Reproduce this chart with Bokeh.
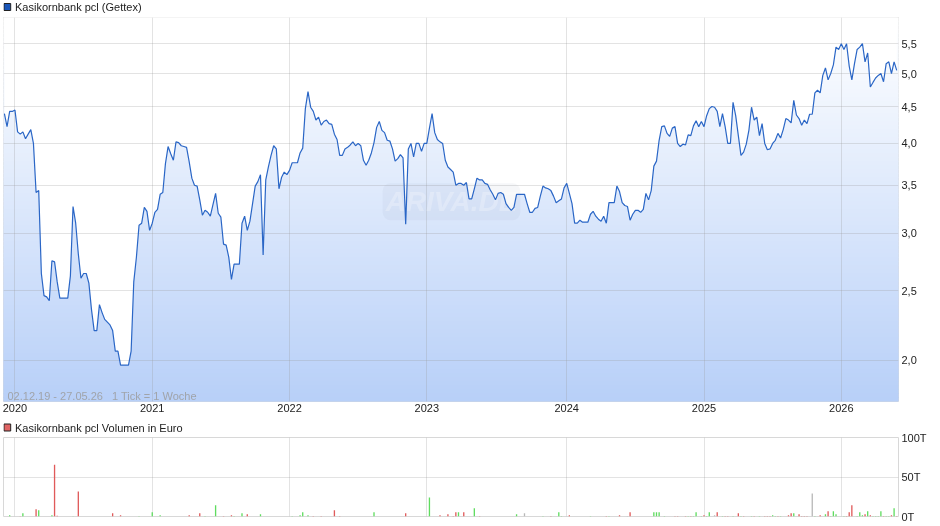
import numpy as np
from bokeh.core.properties import value
from bokeh.embed import file_html
from bokeh.layouts import column
from bokeh.models import FixedTicker, Label
from bokeh.plotting import figure
from bokeh.resources import INLINE

# Weekly closing prices, 02.12.19 - 27.05.26 (one value per week)
prices = [
    4.40, 4.22, 4.43, 4.43, 4.45, 4.15, 4.12, 4.15, 4.06, 4.12, 4.18, 4.00, 3.42, 3.44, 2.64, 2.46, 2.45, 2.42, 2.75, 2.74,
    2.57, 2.44, 2.44, 2.44, 2.44, 2.62, 3.27, 3.10, 2.81, 2.60, 2.64, 2.64, 2.56, 2.35, 2.20, 2.20, 2.39, 2.33, 2.28, 2.26,
    2.24, 2.20, 2.06, 2.06, 1.97, 1.97, 1.97, 1.97, 2.06, 2.57, 2.78, 3.08, 3.10, 3.26, 3.22, 3.03, 3.10, 3.21, 3.24, 3.40,
    3.42, 3.75, 3.96, 3.87, 3.79, 4.02, 4.01, 3.97, 3.96, 3.95, 3.77, 3.58, 3.50, 3.49, 3.34, 3.18, 3.23, 3.21, 3.17, 3.29,
    3.41, 3.20, 3.16, 2.90, 2.89, 2.78, 2.59, 2.72, 2.72, 2.72, 3.10, 3.17, 3.03, 3.12, 3.30, 3.49, 3.54, 3.62, 2.80, 3.56,
    3.71, 3.85, 3.97, 3.93, 3.46, 3.59, 3.65, 3.62, 3.67, 3.76, 3.76, 3.76, 3.88, 3.94, 4.47, 4.72, 4.49, 4.43, 4.31, 4.35,
    4.24, 4.29, 4.31, 4.26, 4.25, 4.12, 4.05, 3.85, 3.85, 3.93, 3.95, 3.98, 4.02, 3.97, 4.00, 3.97, 3.79, 3.73, 3.79, 3.88,
    4.01, 4.21, 4.29, 4.17, 4.14, 4.04, 4.03, 3.93, 3.78, 3.81, 3.86, 3.82, 3.09, 3.93, 4.00, 3.83, 4.00, 4.00, 3.90, 4.00,
    4.00, 4.20, 4.40, 4.14, 4.05, 4.02, 4.00, 3.79, 3.71, 3.68, 3.65, 3.50, 3.52, 3.52, 3.50, 3.53, 3.35, 3.35, 3.46, 3.58,
    3.56, 3.56, 3.52, 3.51, 3.45, 3.40, 3.34, 3.41, 3.42, 3.40, 3.30, 3.26, 3.23, 3.26, 3.40, 3.40, 3.40, 3.40, 3.30, 3.21,
    3.21, 3.25, 3.26, 3.38, 3.49, 3.47, 3.46, 3.44, 3.38, 3.31, 3.33, 3.35, 3.47, 3.52, 3.41, 3.30, 3.10, 3.10, 3.13, 3.11,
    3.11, 3.11, 3.19, 3.22, 3.17, 3.14, 3.12, 3.17, 3.10, 3.31, 3.31, 3.31, 3.49, 3.43, 3.31, 3.28, 3.27, 3.13, 3.19, 3.23,
    3.23, 3.21, 3.24, 3.41, 3.34, 3.44, 3.72, 3.78, 4.04, 4.22, 4.23, 4.13, 4.09, 4.20, 4.22, 4.00, 3.96, 3.99, 3.98, 4.11,
    4.10, 4.23, 4.30, 4.22, 4.29, 4.22, 4.37, 4.47, 4.50, 4.49, 4.43, 4.22, 4.40, 4.22, 4.00, 4.00, 4.56, 4.37, 4.10, 3.85,
    3.89, 3.99, 4.17, 4.49, 4.31, 4.35, 4.10, 4.26, 4.00, 3.92, 3.93, 4.00, 4.04, 4.13, 4.07, 4.18, 4.33, 4.31, 4.27, 4.59,
    4.38, 4.33, 4.24, 4.31, 4.26, 4.39, 4.39, 4.70, 4.74, 4.70, 4.97, 5.09, 4.90, 5.00, 5.14, 5.44, 5.40, 5.50, 5.40, 5.50,
    5.12, 4.90, 5.16, 5.40, 5.44, 5.50, 5.19, 5.34, 4.79, 4.86, 4.93, 4.97, 5.00, 4.87, 5.16, 5.19, 5.00, 5.19, 5.05,
]
weeks = list(range(len(prices)))

# Volume in thousand euro, split by week direction
up_weeks = [2, 7, 13, 18, 26, 51, 56, 59, 76, 80, 87, 90, 97, 109, 112, 113, 115, 140, 161, 172, 178, 194, 204, 210, 211,
            222, 229, 246, 247, 248, 250, 259, 261, 262, 264, 266, 267, 272, 276, 279, 283, 286, 291, 292, 294, 299, 307,
            311, 313, 314, 315, 318, 323, 324, 325, 327, 329, 330, 331, 332, 334, 335, 337]
up_vols = [1.7, 4.2, 7.9, 1.7, 0.4, 0.5, 5.4, 1.7, 0.6, 14.2, 0.5, 4.2, 2.9, 0.5, 1.7, 5.4, 1.7, 5.4, 24.2, 5.4, 10.4, 2.9,
           0.6, 5.4, 0.6, 0.6, 0.6, 5.4, 5.4, 5.4, 0.6, 0.6, 0.5, 5.4, 0.6, 0.5, 5.4, 0.6, 0.6, 0.6, 0.6, 0.6, 1.7, 0.6,
           0.6, 4.2, 0.6, 2.9, 0.6, 6.7, 2.9, 0.6, 0.6, 5.4, 1.7, 6.7, 0.6, 0.6, 0.6, 6.7, 0.6, 0.6, 10.4]
down_weeks = [6, 12, 19, 20, 28, 41, 44, 70, 74, 83, 86, 92, 117, 120, 125, 127, 152, 165, 168, 170, 171, 174, 180, 207,
              214, 228, 233, 237, 254, 255, 258, 260, 265, 270, 273, 274, 278, 280, 284, 288, 289, 290, 293, 297, 298,
              301, 302, 303, 304, 309, 312, 319, 320, 321, 326, 328, 333, 336, 338]
down_vols = [0.4, 9.2, 65.4, 0.8, 31.7, 4.2, 1.7, 1.7, 4.2, 0.6, 1.7, 2.9, 0.6, 0.6, 7.9, 0.6, 4.2, 1.7, 2.9, 0.6, 5.4, 5.4,
             0.6, 0.6, 1.7, 0.6, 1.7, 5.4, 0.6, 0.5, 0.6, 0.6, 1.7, 5.4, 0.6, 0.6, 4.2, 0.6, 0.6, 0.6, 0.6, 0.6, 0.6, 1.7,
             4.2, 2.9, 0.6, 0.6, 0.6, 1.7, 6.7, 0.6, 5.4, 14.2, 2.9, 1.7, 0.6, 1.7, 0.6]
flat_weeks = [197, 236, 269, 306]
flat_vols = [4.2, 0.5, 1.7, 29.2]

year_weeks = [4, 56, 108, 160, 213, 265, 317]
year_labels = ["2020", "2021", "2022", "2023", "2024", "2025", "2026"]
price_ticks = [2.0, 2.5, 3.0, 3.5, 4.0, 4.5, 5.0, 5.5]
price_labels = ["2,0", "2,5", "3,0", "3,5", "4,0", "4,5", "5,0", "5,5"]
vol_ticks = [0, 50, 100]
vol_labels = ["0T", "50T", "100T"]

FONT = "Liberation Sans"
GRID = "#999999"
X_RANGE = (-0.34, 338.67)
Y_LOW, Y_HIGH = 1.754, 5.98


def style(p):
    p.outline_line_color = "#d8d8d8"
    p.xgrid.ticker = FixedTicker(ticks=year_weeks)
    p.xgrid.grid_line_color = GRID
    p.xgrid.grid_line_alpha = 0.27
    p.ygrid.grid_line_color = GRID
    p.ygrid.grid_line_alpha = 0.27
    p.yaxis.axis_line_color = None
    p.yaxis.major_tick_line_color = None
    p.yaxis.minor_tick_line_color = None
    p.yaxis.major_tick_out = 0
    p.yaxis.major_label_text_font = FONT
    p.yaxis.major_label_text_font_size = "11px"
    p.yaxis.major_label_text_color = "#222222"
    p.yaxis.major_label_standoff = 3


def header(text, color, height, center):
    # thin strip above a chart with the coloured square and its caption, measured in pixels
    h = figure(width=932, height=height, output_backend="svg", toolbar_location=None, x_range=(0, 932),
               y_range=(height, 0), x_axis_location=None, y_axis_location=None, min_border=0, outline_line_color=None)
    h.grid.visible = False
    h.quad(left=0.5, right=7.5, top=center - 3.5, bottom=center + 3.5, fill_color=color, line_color="#222222")
    h.text(x=[12], y=[center], text=[text], text_font=value(FONT), text_font_size="11px", text_color="#222222",
           text_baseline="middle")
    return h


head = header("Kasikornbank pcl (Gettex)", "#1a56b8", 17, 6.5)

p = figure(width=932, height=398, output_backend="svg", toolbar_location=None, x_range=X_RANGE,
           y_range=(Y_LOW, Y_HIGH), y_axis_type="log", y_axis_location="right", frame_width=895, frame_height=384,
           min_border_left=3, min_border_top=0, min_border_bottom=0, min_border_right=34)
style(p)
p.yaxis.ticker = FixedTicker(ticks=price_ticks)
p.yaxis.major_label_overrides = dict(zip(price_ticks, price_labels))
p.ygrid.ticker = FixedTicker(ticks=price_ticks)
p.xaxis.ticker = FixedTicker(ticks=year_weeks)
p.xaxis.major_label_overrides = dict(zip(year_weeks, year_labels))
p.xaxis.axis_line_color = None
p.xaxis.major_tick_line_color = None
p.xaxis.minor_tick_line_color = None
p.xaxis.major_tick_out = 0
p.xaxis.major_label_text_font = FONT
p.xaxis.major_label_text_font_size = "11px"
p.xaxis.major_label_text_color = "#222222"
p.xaxis.major_label_standoff = 2

# background gradient, then white above the price line so only the area under it stays blue
edges = np.geomspace(Y_HIGH, Y_LOW, 97)
shades = np.linspace(0, 1, 96)
colors = ["#%02x%02x%02x" % (round(255 - 71 * s), round(255 - 47 * s), round(255 - 7 * s)) for s in shades]
bands = p.quad(left=X_RANGE[0], right=X_RANGE[1], top=edges[:-1], bottom=edges[1:], fill_color=colors, line_color=colors)
bands.level = "image"
mask = p.varea(x=weeks, y1=prices, y2=Y_HIGH, fill_color="white")
mask.level = "image"
p.add_layout(Label(x=448, y=3.32, text="ARIVA.DE", text_font=FONT, text_font_style="bold italic",
                   text_font_size="28px", text_color="white", text_alpha=0.25, text_align="center",
                   text_baseline="middle", background_fill_color="#8090a8", background_fill_alpha=0.07,
                   border_radius=8, padding=3, x_units="screen", y_units="data", level="underlay"))
p.line(weeks, prices, line_color="#2a66c6", line_width=1.2)

p.add_layout(Label(x=4, y=6, x_units="screen", y_units="screen", text="02.12.19 - 27.05.26\u00a0\u00a0\u00a01 Tick = 1 Woche",
                   text_font=FONT, text_font_size="11px", text_color="#a0a4aa", text_baseline="middle"))

head_v = header("Kasikornbank pcl Volumen in Euro", "#e06464", 23, 13)

# the chart overlaps the strip a little so the top tick label has room
v = figure(width=932, height=95, output_backend="svg", toolbar_location=None, x_range=X_RANGE, y_range=(0, 100),
           y_axis_location="right", frame_width=895, frame_height=79, min_border_left=3, min_border_top=7,
           min_border_bottom=9, min_border_right=34, margin=(-7, 0, 0, 0), border_fill_alpha=0)
style(v)
v.xaxis.visible = False
v.yaxis.ticker = FixedTicker(ticks=vol_ticks)
v.yaxis.major_label_overrides = dict(zip(vol_ticks, vol_labels))
v.ygrid.ticker = FixedTicker(ticks=vol_ticks)
v.vbar(x=up_weeks, top=up_vols, width=0.5, fill_color="#5fdc5f", line_color=None)
v.vbar(x=down_weeks, top=down_vols, width=0.5, fill_color="#e05a5a", line_color=None)
v.vbar(x=flat_weeks, top=flat_vols, width=0.5, fill_color="#b8b8b8", line_color=None)

layout = column(head, p, head_v, v, spacing=0, styles={"position": "fixed", "left": "0px", "top": "0px"})
open("out.html", "w").write(file_html(layout, INLINE))
